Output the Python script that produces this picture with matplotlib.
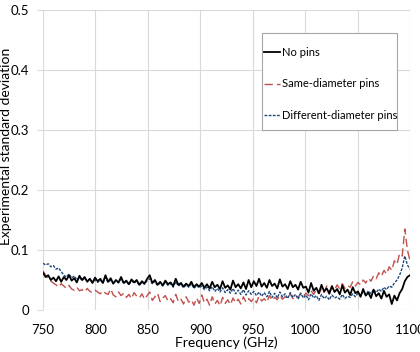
import numpy as np
import matplotlib
matplotlib.use('Agg')
import matplotlib.pyplot as plt
from matplotlib.patches import Rectangle

plt.rcParams['font.family'] = ['Lato', 'DejaVu Sans']

no_pins = [
    0.062, 0.055, 0.058, 0.050, 0.054, 0.048, 0.056, 0.047, 0.055, 0.050, 0.058, 0.049, 0.053, 0.046, 0.057, 0.050, 0.055, 0.047, 0.052, 0.045, 0.054,
    0.048, 0.052, 0.045, 0.058, 0.047, 0.053, 0.044, 0.050, 0.046, 0.055, 0.045, 0.049, 0.043, 0.051, 0.046, 0.050, 0.042, 0.048, 0.044, 0.052,
    0.058, 0.045, 0.050, 0.042, 0.047, 0.041, 0.049, 0.043, 0.046, 0.040, 0.052, 0.042, 0.045, 0.039, 0.044, 0.040, 0.047, 0.038, 0.043, 0.039,
    0.045, 0.037, 0.043, 0.036, 0.047, 0.038, 0.042, 0.035, 0.048, 0.037, 0.041, 0.034, 0.049, 0.038, 0.043, 0.036, 0.046, 0.035, 0.050, 0.038,
    0.048, 0.040, 0.052, 0.039, 0.045, 0.037, 0.050, 0.040, 0.044, 0.036, 0.051, 0.039, 0.043, 0.035, 0.048, 0.038, 0.042, 0.034, 0.047, 0.037,
    0.039, 0.029, 0.045, 0.032, 0.037, 0.028, 0.042, 0.031, 0.036, 0.027, 0.040, 0.030, 0.035, 0.026, 0.041, 0.029, 0.034, 0.025, 0.038, 0.028,
    0.031, 0.022, 0.035, 0.024, 0.029, 0.020, 0.034, 0.023, 0.028, 0.019, 0.032, 0.022, 0.026, 0.010, 0.024, 0.016, 0.028, 0.035, 0.048, 0.055, 0.058,
]

same_diam = [
    0.065, 0.058, 0.052, 0.048, 0.045, 0.042, 0.038, 0.044, 0.040, 0.036, 0.041, 0.035, 0.033, 0.038, 0.032, 0.034, 0.030, 0.036, 0.031, 0.029, 0.033,
    0.030, 0.027, 0.032, 0.028, 0.026, 0.035, 0.025, 0.022, 0.030, 0.024, 0.028, 0.021, 0.026, 0.019, 0.029, 0.023, 0.020, 0.027, 0.018, 0.024,
    0.030, 0.016, 0.022, 0.028, 0.014, 0.020, 0.024, 0.015, 0.019, 0.012, 0.026, 0.014, 0.018, 0.010, 0.022, 0.013, 0.017, 0.008, 0.020, 0.011,
    0.025, 0.012, 0.018, 0.008, 0.022, 0.010, 0.016, 0.007, 0.021, 0.011, 0.017, 0.009, 0.020, 0.012, 0.018, 0.010, 0.022, 0.013, 0.019, 0.014,
    0.020, 0.012, 0.023, 0.015, 0.019, 0.013, 0.024, 0.016, 0.021, 0.017, 0.025, 0.018, 0.022, 0.020, 0.027, 0.019, 0.024, 0.021, 0.028, 0.022,
    0.028, 0.024, 0.032, 0.026, 0.034, 0.027, 0.036, 0.029, 0.040, 0.031, 0.038, 0.033, 0.042, 0.035, 0.044, 0.036, 0.041, 0.038, 0.047, 0.040,
    0.046, 0.042, 0.050, 0.045, 0.053, 0.048, 0.057, 0.052, 0.062, 0.056, 0.066, 0.060, 0.072, 0.066, 0.082, 0.076, 0.094, 0.090, 0.135, 0.100, 0.082,
]

diff_diam = [
    0.078, 0.075, 0.077, 0.072, 0.074, 0.068, 0.070, 0.064, 0.058, 0.055, 0.060, 0.053, 0.057, 0.050, 0.055, 0.049, 0.053, 0.048, 0.052, 0.047, 0.050,
    0.046, 0.050, 0.045, 0.054, 0.046, 0.050, 0.044, 0.049, 0.045, 0.052, 0.044, 0.048, 0.042, 0.049, 0.045, 0.048, 0.041, 0.046, 0.043, 0.049,
    0.052, 0.044, 0.048, 0.041, 0.045, 0.040, 0.046, 0.041, 0.044, 0.038, 0.047, 0.040, 0.043, 0.037, 0.042, 0.038, 0.044, 0.036, 0.041, 0.037,
    0.040, 0.034, 0.038, 0.032, 0.039, 0.031, 0.036, 0.030, 0.037, 0.029, 0.034, 0.028, 0.036, 0.027, 0.033, 0.026, 0.034, 0.025, 0.032, 0.026,
    0.031, 0.024, 0.030, 0.023, 0.029, 0.022, 0.031, 0.021, 0.028, 0.020, 0.030, 0.022, 0.027, 0.019, 0.029, 0.021, 0.026, 0.018, 0.028, 0.020,
    0.025, 0.017, 0.027, 0.020, 0.024, 0.016, 0.026, 0.019, 0.023, 0.017, 0.025, 0.020, 0.022, 0.018, 0.026, 0.019, 0.023, 0.021, 0.027, 0.022,
    0.028, 0.024, 0.030, 0.025, 0.032, 0.027, 0.034, 0.029, 0.035, 0.031, 0.038, 0.034, 0.040, 0.038, 0.045, 0.050, 0.058, 0.070, 0.090, 0.075, 0.068,
]

# frequency grid (GHz), evenly spaced over 750-1100
freq = np.linspace(750, 1100, len(no_pins))

x_ticks = [750, 800, 850, 900, 950, 1000, 1050, 1100]
y_ticks = [0, 0.1, 0.2, 0.3, 0.4, 0.5]
y_ticklabels = ['0', '0.1', '0.2', '0.3', '0.4', '0.5']

fig = plt.figure(figsize=(4.2, 3.52), dpi=100)
ax = fig.add_axes([0.1024, 0.1193, 0.8738, 0.8523])

ax.plot(freq, no_pins, color='black', lw=1.3, label='No pins', zorder=3)
ax.plot(freq, same_diam, color='#c0504d', lw=1.0, dashes=(6, 3), label='Same-diameter pins', zorder=2)
ax.plot(freq, diff_diam, color='#1f497d', lw=1.0, dashes=(2, 1), label='Different-diameter pins', zorder=2)

ax.set_xlim(750, 1100)
ax.set_ylim(0, 0.5)
ax.set_xticks(x_ticks)
ax.set_yticks(y_ticks)
ax.set_yticklabels(y_ticklabels)
ax.tick_params(axis='x', length=0, labelsize=9.5, pad=10)
ax.tick_params(axis='y', length=4, color='#d9d9d9', labelsize=9.5, pad=6)
ax.grid(True, color='#d9d9d9', lw=0.8)
ax.set_axisbelow(True)
for s in ax.spines.values():
    s.set_visible(False)

ax.set_xlabel('Frequency (GHz)', fontsize=10)
ax.xaxis.set_label_coords(0.5, -0.088)
ax.set_ylabel('Experimental standard deviation', fontsize=10)
ax.yaxis.set_label_coords(-0.085, 0.547)

# legend box
ax.add_patch(Rectangle((0.597, 0.6), 0.368, 0.323, transform=ax.transAxes,
                       facecolor='white', edgecolor='#a6a6a6', lw=0.8, zorder=4))
leg = ax.legend(loc='upper left', bbox_to_anchor=(0.603, 0.877), fontsize=8,
                frameon=False, labelspacing=1.85, handlelength=1.4,
                handletextpad=0.15, borderpad=0, borderaxespad=0)
leg.set_zorder(5)

fig.savefig('out.png', dpi=100)
